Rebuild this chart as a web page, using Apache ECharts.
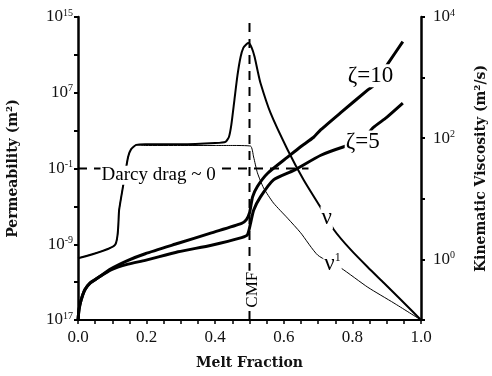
<!DOCTYPE html>
<html>
<head>
<meta charset="utf-8">
<script src="https://cdn.jsdelivr.net/npm/echarts@6/dist/echarts.min.js"></script>
<style>
html, body { margin: 0; padding: 0; background: #fff; }
#main { width: 492px; height: 376px; }
</style>
</head>
<body>
<div id="main"></div>
<script>
// melt fraction labels shown on the x axis
var xLabels = [0, 0.2, 0.4, 0.6, 0.8, 1.0];
// permeability axis, exponents of 10 (m^2) and the text printed beside them
var permTickExp = [-17, -9, -1, 7, 15];
var permTickText = ['17', '-9', '-1', '7', '15'];
// viscosity axis, exponents of 10 (m^2/s)
var viscTickExp = [0, 2, 4];

// zeta = 10 permeability, log10 m^2
var z10Frac = [0, 0.003, 0.009, 0.02, 0.035, 0.056, 0.096, 0.146, 0.196, 0.292, 0.389, 0.477, 0.491, 0.5, 0.509, 0.523, 0.553, 0.611, 0.649, 0.687, 0.708, 0.766, 0.845, 0.863, 0.904, 0.947];
var z10Log = [-17, -15.9, -14.9, -13.8, -13.1, -12.6, -11.6, -10.7, -10.0, -8.9, -7.8, -6.8, -6.4, -5.7, -4.0, -2.9, -1.5, 0.2, 1.3, 2.3, 3.1, 4.9, 7.3, 7.8, 10.1, 12.4];

// zeta = 5 permeability, log10 m^2
var z5Frac = [0, 0.003, 0.009, 0.02, 0.035, 0.056, 0.096, 0.146, 0.196, 0.292, 0.389, 0.477, 0.494, 0.503, 0.512, 0.532, 0.57, 0.629, 0.708, 0.775, 0.825, 0.86, 0.9, 0.947];
var z5Log = [-17, -15.9, -14.9, -13.8, -13.1, -12.6, -11.7, -11.1, -10.7, -9.8, -9.1, -8.3, -8.0, -6.8, -5.4, -4.0, -2.2, -1.2, 0.4, 1.3, 1.8, 3.3, 4.4, 5.9];

// kinematic viscosity nu, log10 m^2/s
var nuFrac = [0, 0.108, 0.12, 0.132, 0.146, 0.155, 0.17, 0.196, 0.3, 0.4, 0.43, 0.44, 0.447, 0.456, 0.465, 0.474, 0.482, 0.491, 0.497, 0.506, 0.515, 0.523, 0.532, 0.561, 0.611, 0.658, 0.708, 0.746, 0.795, 0.845, 0.892, 0.942, 1.0];
var nuLog = [0.02, 0.24, 0.82, 1.23, 1.69, 1.82, 1.89, 1.90, 1.90, 1.92, 1.94, 2.02, 2.22, 2.63, 3.04, 3.34, 3.49, 3.55, 3.57, 3.50, 3.34, 3.13, 2.91, 2.42, 1.81, 1.31, 0.85, 0.49, 0.16, -0.13, -0.39, -0.67, -1];

// kinematic viscosity nu^1, log10 m^2/s
var nu1Frac = [0, 0.108, 0.12, 0.132, 0.146, 0.155, 0.17, 0.196, 0.3, 0.4, 0.45, 0.503, 0.512, 0.523, 0.541, 0.57, 0.611, 0.649, 0.699, 0.766, 0.845, 0.921, 1.0];
var nu1Log = [0.02, 0.24, 0.82, 1.23, 1.69, 1.82, 1.89, 1.88, 1.88, 1.88, 1.88, 1.87, 1.69, 1.43, 1.18, 0.93, 0.68, 0.44, 0.07, -0.14, -0.46, -0.72, -1];

// critical melt fraction and "Darcy drag ~ 0" level
var cmfFrac = [0.5, 0.5];
var cmfLog = [-17, 14.5];
var darcyFrac = [0, 0.672];
var darcyLog = [-1, -1];

// annotations (placed on the permeability axis)
var annoText = ['Darcy drag ~ 0', 'ζ=10', 'ζ=5', 'ν', '{a|ν}{s|1}', 'CMF'];
var annoFrac = [0.235, 0.853, 0.83, 0.725, 0.742, 0.51];
var annoLog = [-1.7, 8.8, 1.8, -6.2, -11.1, -13.8];

function zip(a, b) {
  var out = [];
  for (var i = 0; i < a.length; i++) out.push([a[i], b[i]]);
  return out;
}

var serif = 'Liberation Serif';
var titleStyle = { fontFamily: 'DejaVu Serif', fontWeight: 'bold', fontSize: 14, color: '#111' };
var supRich = {
  b: { fontFamily: serif, fontSize: 17, color: '#111', lineHeight: 18 },
  s: { fontFamily: serif, fontSize: 10, color: '#111', lineHeight: 10, verticalAlign: 'top' }
};

var annoData = [];
for (var i = 0; i < annoText.length; i++) {
  annoData.push({
    value: [annoFrac[i], annoLog[i]],
    label: {
      formatter: annoText[i],
      fontSize: i == 0 ? 19 : (i == 5 ? 17 : 23),
      rotate: i == 5 ? 90 : 0
    }
  });
}

var myChart = echarts.init(document.getElementById('main'));
myChart.setOption({
  animation: false,
  backgroundColor: '#fff',
  grid: { left: 78, right: 71, top: 17, bottom: 56, containLabel: false, outerBoundsMode: 'none' },
  xAxis: {
    type: 'value',
    min: 0,
    max: 1,
    interval: 0.05,
    name: 'Melt Fraction',
    nameLocation: 'middle',
    nameGap: 36,
    nameTextStyle: titleStyle,
    axisLine: { show: true, onZero: false, lineStyle: { color: '#000', width: 2 } },
    axisTick: { show: true, length: 4, lineStyle: { color: '#000', width: 1.5 } },
    splitLine: { show: false },
    axisLabel: {
      margin: 9,
      fontFamily: serif,
      fontSize: 17,
      color: '#111',
      formatter: function (v) {
        for (var k = 0; k < xLabels.length; k++) {
          if (Math.abs(xLabels[k] - v) < 1e-6) return v.toFixed(1);
        }
        return '';
      }
    }
  },
  yAxis: [
    {
      type: 'value',
      position: 'left',
      min: -17,
      max: 15,
      interval: 4,
      name: 'Permeability (m²)',
      nameLocation: 'middle',
      nameGap: 58,
      nameTextStyle: titleStyle,
      axisLine: { show: true, onZero: false, lineStyle: { color: '#000', width: 2.5 } },
      axisTick: { show: true, length: 4, lineStyle: { color: '#000', width: 2 } },
      splitLine: { show: false },
      axisLabel: {
        margin: 5,
        rich: supRich,
        formatter: function (v) {
          var k = permTickExp.indexOf(v);
          return k < 0 ? '' : '{b|10}{s|' + permTickText[k] + '}';
        }
      }
    },
    {
      type: 'value',
      position: 'right',
      min: -1,
      max: 4,
      interval: 1,
      name: 'Kinematic Viscosity (m²/s)',
      nameLocation: 'middle',
      nameGap: 53,
      nameTextStyle: titleStyle,
      axisLine: { show: true, onZero: false, lineStyle: { color: '#000', width: 2.5 } },
      axisTick: { show: true, length: 4, lineStyle: { color: '#000', width: 2 } },
      splitLine: { show: false },
      axisLabel: {
        margin: 12,
        rich: supRich,
        formatter: function (v) {
          return viscTickExp.indexOf(v) < 0 ? '' : '{b|10}{s|' + v + '}';
        }
      }
    }
  ],
  series: [
    {
      name: 'CMF',
      type: 'line',
      yAxisIndex: 0,
      data: zip(cmfFrac, cmfLog),
      symbol: 'none',
      lineStyle: { color: '#000', width: 2, type: [9, 7] },
      z: 2
    },
    {
      name: 'Darcy',
      type: 'line',
      yAxisIndex: 0,
      data: zip(darcyFrac, darcyLog),
      symbol: 'none',
      lineStyle: { color: '#000', width: 2, type: [9, 7] },
      z: 2
    },
    {
      name: 'ν1',
      type: 'line',
      yAxisIndex: 1,
      data: zip(nu1Frac, nu1Log),
      symbol: 'none',
      smooth: 0.2,
      lineStyle: { color: '#000', width: 1 },
      z: 3
    },
    {
      name: 'ν',
      type: 'line',
      yAxisIndex: 1,
      data: zip(nuFrac, nuLog),
      symbol: 'none',
      smooth: 0.2,
      lineStyle: { color: '#000', width: 2 },
      z: 3
    },
    {
      name: 'ζ=10',
      type: 'line',
      yAxisIndex: 0,
      data: zip(z10Frac, z10Log),
      symbol: 'none',
      smooth: 0.2,
      lineStyle: { color: '#000', width: 3 },
      z: 3
    },
    {
      name: 'ζ=5',
      type: 'line',
      yAxisIndex: 0,
      data: zip(z5Frac, z5Log),
      symbol: 'none',
      smooth: 0.2,
      lineStyle: { color: '#000', width: 3 },
      z: 3
    },
    {
      name: 'labels',
      type: 'scatter',
      yAxisIndex: 0,
      symbolSize: 1,
      itemStyle: { color: '#fff', opacity: 1 },
      z: 10,
      label: {
        show: true,
        position: 'inside',
        fontFamily: serif,
        color: '#000',
        opacity: 1,
        backgroundColor: '#fff',
        padding: [0, 1],
        rich: {
          a: { fontFamily: serif, fontSize: 23, color: '#000', lineHeight: 24 },
          s: { fontFamily: serif, fontSize: 12, color: '#000', lineHeight: 12, verticalAlign: 'top' }
        }
      },
      data: annoData
    }
  ]
});
</script>
</body>
</html>
